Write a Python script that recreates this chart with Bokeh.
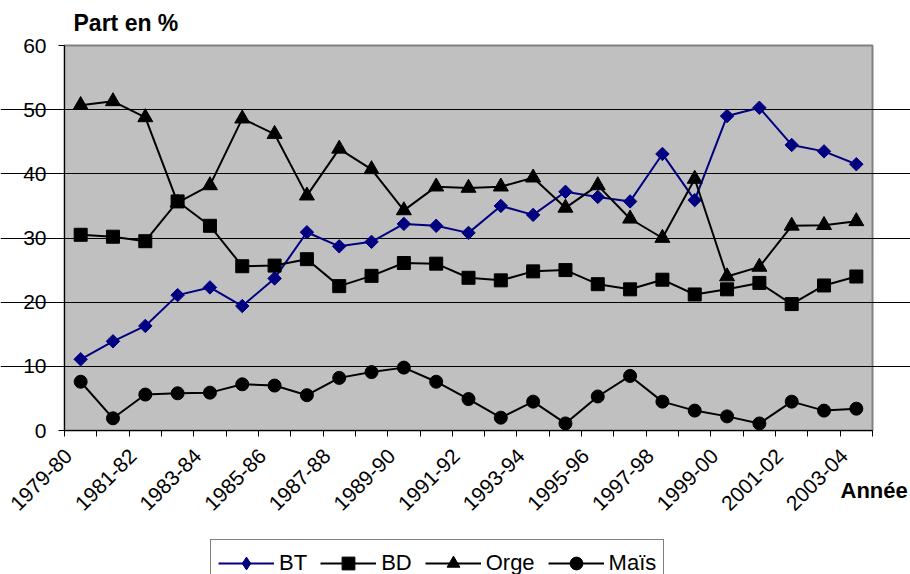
import math

from bokeh.embed import file_html
from bokeh.models import BoxAnnotation, FixedTicker, Label, Legend, LegendItem, Range1d
from bokeh.plotting import figure
from bokeh.resources import INLINE

# Crop seasons and share of each cereal (%)
seasons = ["1979-80", "1980-81", "1981-82", "1982-83", "1983-84", "1984-85",
           "1985-86", "1986-87", "1987-88", "1988-89", "1989-90", "1990-91",
           "1991-92", "1992-93", "1993-94", "1994-95", "1995-96", "1996-97",
           "1997-98", "1998-99", "1999-00", "2000-01", "2001-02", "2002-03",
           "2003-04"]
bt = [11.1, 13.9, 16.3, 21.1, 22.3, 19.4, 23.7, 30.9, 28.7, 29.4, 32.2, 31.9,
      30.8, 35.0, 33.6, 37.2, 36.4, 35.7, 43.1, 35.9, 49.0, 50.3, 44.5, 43.5, 41.5]
bd = [30.5, 30.2, 29.5, 35.7, 31.9, 25.6, 25.7, 26.7, 22.5, 24.1, 26.1, 26.0,
      23.8, 23.4, 24.8, 25.0, 22.8, 22.0, 23.5, 21.2, 22.0, 23.0, 19.7, 22.6, 24.0]
orge = [50.7, 51.3, 48.8, 35.5, 38.2, 48.6, 46.2, 36.6, 43.9, 40.7, 34.3, 38.0,
        37.8, 38.0, 39.4, 34.7, 38.2, 33.0, 30.0, 39.2, 24.0, 25.5, 31.9, 32.0, 32.6]
mais = [7.6, 1.9, 5.6, 5.8, 5.9, 7.2, 7.0, 5.5, 8.2, 9.1, 9.8, 7.6,
        4.9, 2.0, 4.5, 1.1, 5.3, 8.5, 4.5, 3.1, 2.2, 1.1, 4.5, 3.1, 3.4]
y_ticks = [0, 10, 20, 30, 40, 50, 60]

FONT = "Liberation Sans"
W, H = 910, 574
LEFT, TOP, RIGHT, BOTTOM = 64, 45, 872, 430      # plot area in page pixels

n = len(seasons)
x = list(range(1, n + 1))
x0, x1 = 0.5, n + 0.5
y0, y1 = y_ticks[0], y_ticks[-1]

# The frame fills the whole page; the plot area is a sub-box of it, so the
# axes (pinned with fixed_location), titles and legend all stay inside the frame.
px_x = (RIGHT - LEFT) / (x1 - x0)
px_y = (BOTTOM - TOP) / (y1 - y0)
x_range = Range1d(x0 - LEFT / px_x, x0 + (W - LEFT) / px_x)
y_range = Range1d(y0 - (H - BOTTOM) / px_y, y1 + TOP / px_y)

p = figure(width=W, height=H, output_backend="svg", toolbar_location=None,
           x_range=x_range, y_range=y_range, min_border=0)
p.title.visible = False
p.background_fill_color = "white"
p.border_fill_color = "white"
p.outline_line_color = None

# grey plot area with its grey frame
p.add_layout(BoxAnnotation(left=x0, right=x1, bottom=y0, top=y1, level="image",
                           fill_color="#C0C0C0", fill_alpha=1,
                           line_color="#808080", line_width=2, line_alpha=1))

# category labels on every other season, tick marks between categories
label_pos = [x[i] - 0.375 for i in range(0, n, 2)]
p.xaxis.fixed_location = y0
p.xaxis.bounds = (x0, x1)
p.xaxis.ticker = FixedTicker(ticks=label_pos,
                             minor_ticks=[v + 0.5 for v in range(0, n + 1)])
p.xaxis.major_label_overrides = {x[i] - 0.375: seasons[i] for i in range(0, n, 2)}
p.xaxis.major_label_orientation = math.pi / 4
p.xaxis.major_tick_line_color = None
p.xaxis.major_tick_out = 0
p.xaxis.major_tick_in = 0
p.xaxis.minor_tick_line_color = "black"
p.xaxis.minor_tick_out = 6
p.xaxis.minor_tick_in = 0
p.xaxis.major_label_standoff = 16
p.xgrid.grid_line_color = None

p.yaxis.fixed_location = x0
p.yaxis.bounds = (y0, y1)
p.yaxis.ticker = FixedTicker(ticks=y_ticks)
p.yaxis.minor_tick_line_color = None
p.yaxis.major_tick_out = 6
p.yaxis.major_tick_in = 0
p.yaxis.major_label_standoff = 12
p.ygrid.ticker = FixedTicker(ticks=y_ticks[1:-1])
p.ygrid.bounds = (x0, x1)
p.ygrid.grid_line_color = "black"

for ax in (p.xaxis, p.yaxis):
    ax.axis_line_color = "black"
    ax.axis_line_width = 1
    ax.major_label_text_font = FONT
    ax.major_label_text_font_size = "21px"
    ax.major_label_text_color = "black"

series = [
    ("BT", bt, "#000080", dict(marker="square", size=9.5, angle=math.pi / 4), "diamond"),
    ("BD", bd, "black", dict(marker="square", size=13), None),
    ("Orge", orge, "black", dict(marker="triangle", size=15), None),
    ("Maïs", mais, "black", dict(marker="circle", size=13), None),
]
items = []
for name, vals, color, mk, key_marker in series:
    ln = p.line(x, vals, line_color=color, line_width=2)
    sc = p.scatter(x, vals, fill_color=color, line_color=color, **mk)
    if key_marker is not None:
        # legend key drawn with a diamond (the key ignores the marker angle)
        sc = p.scatter([x[0]], [float("nan")], marker=key_marker,
                       fill_color=color, line_color=color, size=mk["size"])
    items.append(LegendItem(label=name, renderers=[ln, sc]))

legend = Legend(items=items, orientation="horizontal", location=(210, -13),
                border_line_color="black", border_line_width=1,
                background_fill_color="white", background_fill_alpha=1,
                padding=7, spacing=13, margin=0,
                glyph_width=56, glyph_height=32, label_standoff=5,
                label_text_font=FONT, label_text_font_size="22px",
                label_text_color="black")
p.add_layout(legend, "center")

# axis titles
p.add_layout(Label(x=x0 + (73 - LEFT) / px_x, y=y1 + (TOP - 22) / px_y,
                   text="Part en %", text_font=FONT, text_font_style="bold",
                   text_font_size="23px", text_align="left",
                   text_baseline="middle", text_color="black"))
p.add_layout(Label(x=x0 + (840 - LEFT) / px_x, y=y0 - (490 - BOTTOM) / px_y,
                   text="Année", text_font=FONT, text_font_style="bold",
                   text_font_size="22px", text_align="left",
                   text_baseline="middle", text_color="black"))

open("out.html", "w").write(file_html(p, INLINE))
